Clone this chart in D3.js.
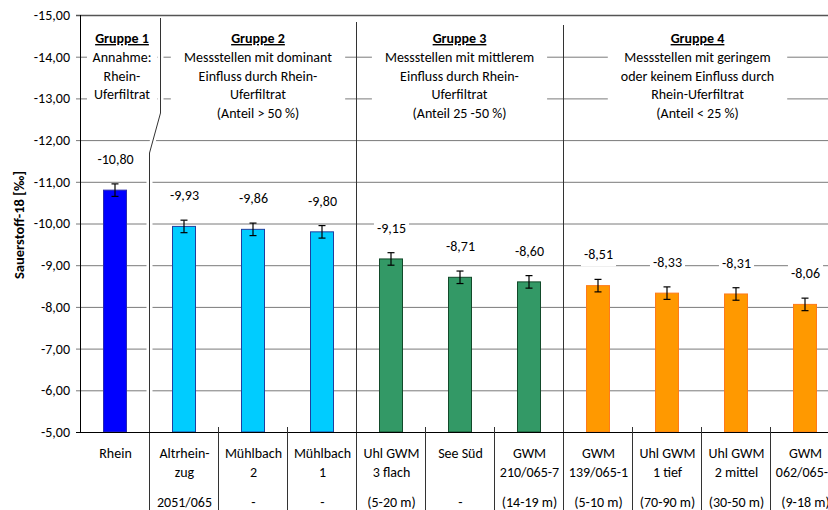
<!DOCTYPE html>
<html>
<head>
<meta charset="utf-8">
<script src="https://cdn.jsdelivr.net/npm/d3@7"></script>
<style>
  html, body { margin: 0; padding: 0; background: #fff; overflow: hidden; }
  svg { display: block; font-family: Carlito, Lato, sans-serif; }
</style>
</head>
<body>
<svg id="chart" width="828" height="510"></svg>
<script>
// Measuring points (sampling sites)
const categories = ["Rhein", "Altrheinzug", "Mühlbach 2", "Mühlbach 1", "Uhl GWM 3 flach", "See Süd",
  "GWM 210/065-7", "GWM 139/065-1", "Uhl GWM 1 tief", "Uhl GWM 2 mittel", "GWM 062/065-7"];
const labelLine1 = ["Rhein", "Altrhein-", "Mühlbach", "Mühlbach", "Uhl GWM", "See Süd",
  "GWM", "GWM", "Uhl GWM", "Uhl GWM", "GWM"];
const labelLine2 = ["", "zug", "2", "1", "3 flach", "",
  "210/065-7", "139/065-1", "1 tief", "2 mittel", "062/065-7"];
const depthLabels = ["", "2051/065", "-", "-", "(5-20 m)", "-",
  "(14-19 m)", "(5-10 m)", "(70-90 m)", "(30-50 m)", "(9-18 m)"];

// Oxygen-18 values (‰) and their uncertainty
const delta18O = [-10.80, -9.93, -9.86, -9.80, -9.15, -8.71, -8.60, -8.51, -8.33, -8.31, -8.06];
const errors   = [0.15, 0.15, 0.15, 0.15, 0.15, 0.15, 0.15, 0.15, 0.15, 0.15, 0.15];
const groupOf  = [1, 2, 2, 2, 3, 3, 3, 4, 4, 4, 4];

// Group headings
const groupTitles = ["Gruppe 1", "Gruppe 2", "Gruppe 3", "Gruppe 4"];
const groupNotes = [
  ["Annahme:", "Rhein-", "Uferfiltrat"],
  ["Messstellen mit dominant", "Einfluss durch Rhein-", "Uferfiltrat", "(Anteil > 50 %)"],
  ["Messstellen mit mittlerem", "Einfluss durch Rhein-", "Uferfiltrat", "(Anteil 25 -50 %)"],
  ["Messstellen mit geringem", "oder keinem Einfluss durch", "Rhein-Uferfiltrat", "(Anteil < 25 %)"]
];

const yTicks = [-15, -14, -13, -12, -11, -10, -9, -8, -7, -6, -5];
const yTitle = "Sauerstoff-18 [‰]";

// Styling per group
const groupFill   = { 1: "#0000ff", 2: "#00ccff", 3: "#339966", 4: "#ff9900" };
const groupStroke = { 1: "#2a2ab0", 2: "#1f3f9f", 3: "#124a2a", 4: "#ff7a1a" };

// ---- layout ----
const plotLeft = 80, plotTop = 15, plotBottom = 432, step = 69;
const plotRight = plotLeft + step * categories.length;
const fs = 14;

const svg = d3.select("#chart");
const de = d3.formatLocale({ decimal: ",", thousands: ".", grouping: [3], currency: ["", " €"], minus: "-" });
const fmt = de.format(".2f");

const x = d3.scaleBand().domain(categories).range([plotLeft, plotRight])
  .paddingInner(2 / 3).paddingOuter(1 / 3);
const y = d3.scaleLinear().domain([-5, -15]).range([plotBottom, plotTop]);

// Group extents (in category indices)
const groups = [1, 2, 3, 4].map(g => {
  const idx = groupOf.map((v, i) => v === g ? i : -1).filter(i => i >= 0);
  return { g, first: idx[0], last: idx[idx.length - 1] };
});
const boundaryX = i => plotLeft + step * i; // left edge of category i
const topShift = 11;                         // upper part of the first divider sits further right
const groupTopLeft  = gr => gr.first === 0 ? plotLeft : boundaryX(gr.first) + (gr.first === 1 ? topShift : 0);
const groupTopRight = gr => Math.min(828, boundaryX(gr.last + 1) + (gr.last === 0 ? topShift : 0));

// ---- gridlines and y axis ----
const yAxis = d3.axisLeft(y).tickValues(yTicks).tickFormat(fmt)
  .tickSize(-(plotRight - plotLeft)).tickSizeOuter(0).tickPadding(10);
const gAxis = svg.append("g").attr("transform", `translate(${plotLeft},0)`).call(yAxis);
gAxis.select(".domain").remove();
gAxis.selectAll(".tick line")
  .attr("x1", -4)
  .attr("stroke", d => d === -15 ? "#555" : (d === -5 ? "#000" : "#7a7a7a"))
  .attr("stroke-width", d => d === -15 ? 1.5 : 1);
gAxis.selectAll(".tick text")
  .attr("font-size", fs).attr("fill", "#000")
  .attr("font-family", "Carlito, Lato, sans-serif");

// ---- group heading boxes and text ----
const gHead = svg.append("g");
groups.forEach((gr, k) => {
  const x0 = groupTopLeft(gr), x1 = groupTopRight(gr);
  const cx = (x0 + x1) / 2 + (k === 0 || k === 3 ? 2 : 0);
  const box = gHead.append("rect").attr("fill", "#fff");
  const t = gHead.append("text").attr("text-anchor", "middle").attr("font-size", fs).attr("fill", "#000");
  t.append("tspan").attr("x", cx).attr("y", 43)
    .attr("font-weight", "bold").attr("text-decoration", "underline")
    .text(groupTitles[k]);
  groupNotes[k].forEach((line, j) => {
    t.append("tspan").attr("x", cx).attr("y", 62 + j * 18.5).text(line);
  });
  const bb = t.node().getBBox();
  const w = Math.min(bb.width + 26, (x1 - x0) - 10);
  box.attr("x", cx - w / 2).attr("y", 21).attr("width", w).attr("height", 104);
});

// ---- group dividers ----
const firstDiv = boundaryX(1) + 0.5;
const divPath = `M${firstDiv + topShift},18 V113 L${firstDiv},153 V510`;
svg.append("path").attr("d", divPath).attr("fill", "none")
  .attr("stroke", "#fff").attr("stroke-width", 6);
svg.append("path").attr("d", divPath).attr("fill", "none")
  .attr("stroke", "#333").attr("stroke-width", 1);
[groups[2], groups[3]].forEach((gr, k) => {
  const bx = boundaryX(gr.first) + 0.5;
  svg.append("line").attr("x1", bx).attr("x2", bx)
    .attr("y1", k === 0 ? 22 : 25).attr("y2", 510)
    .attr("stroke", "#333").attr("stroke-width", 1);
});

// ---- bars ----
const data = categories.map((c, i) => ({
  c, v: delta18O[i], e: errors[i], g: groupOf[i]
}));
svg.append("g").selectAll("rect").data(data).join("rect")
  .attr("x", d => x(d.c) + 0.5)
  .attr("y", d => y(d.v))
  .attr("width", x.bandwidth())
  .attr("height", d => y(-5) - y(d.v))
  .attr("fill", d => groupFill[d.g])
  .attr("stroke", d => groupStroke[d.g])
  .attr("stroke-width", 1);

// ---- error bars ----
const gErr = svg.append("g").attr("stroke", "#000").attr("stroke-width", 1.2);
data.forEach(d => {
  const cx = x(d.c) + x.bandwidth() / 2 + 0.5;
  const y1 = y(d.v - d.e), y2 = y(d.v + d.e);
  gErr.append("line").attr("x1", cx).attr("x2", cx).attr("y1", y1).attr("y2", y2);
  gErr.append("line").attr("x1", cx - 3.5).attr("x2", cx + 3.5).attr("y1", y1).attr("y2", y1);
  gErr.append("line").attr("x1", cx - 3.5).attr("x2", cx + 3.5).attr("y1", y2).attr("y2", y2);
});

// ---- value labels ----
const gLab = svg.append("g");
data.forEach(d => {
  const cx = x(d.c) + x.bandwidth() / 2 + 1;
  const cy = y(d.v - d.e) - 25;
  const box = gLab.append("rect").attr("fill", "#fff");
  const t = gLab.append("text").attr("x", cx).attr("y", cy + 5)
    .attr("text-anchor", "middle").attr("font-size", fs).attr("fill", "#000")
    .text(fmt(d.v));
  const w = t.node().getComputedTextLength() + 6;
  box.attr("x", cx - w / 2).attr("y", cy - 12).attr("width", w).attr("height", 24);
});

// ---- axis lines ----
svg.append("line").attr("x1", plotLeft).attr("x2", plotRight)
  .attr("y1", plotBottom + 0.5).attr("y2", plotBottom + 0.5)
  .attr("stroke", "#000").attr("stroke-width", 1.2);
svg.append("line").attr("x1", plotLeft + 0.5).attr("x2", plotLeft + 0.5)
  .attr("y1", plotTop).attr("y2", plotBottom)
  .attr("stroke", "#000").attr("stroke-width", 1);

// ---- category table below the axis ----
const groupStarts = new Set(groups.map(gr => gr.first));
for (let i = 1; i <= categories.length; i++) {
  if (groupStarts.has(i)) continue;
  const bx = boundaryX(i) + 0.5;
  svg.append("line").attr("x1", bx).attr("x2", bx).attr("y1", plotBottom - 5).attr("y2", 510)
    .attr("stroke", "#333").attr("stroke-width", 1);
}
const gTab = svg.append("g").attr("text-anchor", "middle").attr("font-size", fs).attr("fill", "#000");
categories.forEach((c, i) => {
  const cx = x(c) + x.bandwidth() / 2 + 1;
  gTab.append("text").attr("x", cx).attr("y", 458).text(labelLine1[i]);
  if (labelLine2[i]) gTab.append("text").attr("x", cx).attr("y", 477).text(labelLine2[i]);
  if (depthLabels[i]) gTab.append("text").attr("x", cx).attr("y", 507).text(depthLabels[i]);
});

// ---- y axis title ----
svg.append("text")
  .attr("transform", "translate(24,225) rotate(-90)")
  .attr("text-anchor", "middle").attr("font-size", 14.5).attr("font-weight", "bold").attr("fill", "#000")
  .text(yTitle);
</script>
</body>
</html>
